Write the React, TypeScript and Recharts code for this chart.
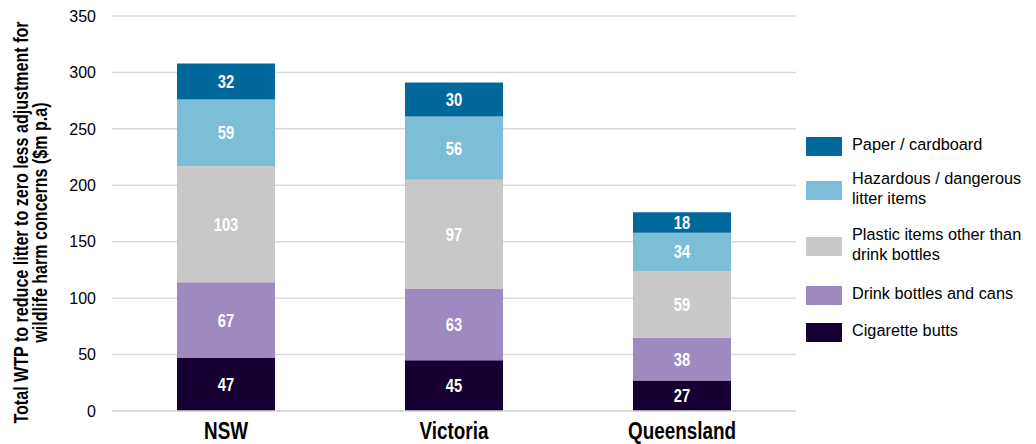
import { BarChart, Bar, XAxis, YAxis, CartesianGrid, LabelList, Label } from "recharts";

const states = ["NSW", "Victoria", "Queensland"];
const cigaretteButts = [47, 45, 27];
const drinkBottles = [67, 63, 38];
const plasticItems = [103, 97, 59];
const hazardousItems = [59, 56, 34];
const paperCardboard = [32, 30, 18];
const yTicks = [0, 50, 100, 150, 200, 250, 300, 350];

const series = [
  { key: "cig", name: "Cigarette butts", color: "#160033", values: cigaretteButts },
  { key: "drink", name: "Drink bottles and cans", color: "#9E89C0", values: drinkBottles },
  { key: "plastic", name: "Plastic items other than drink bottles", color: "#C8C8C8", values: plasticItems },
  { key: "haz", name: "Hazardous / dangerous litter items", color: "#7CBDD8", values: hazardousItems },
  { key: "paper", name: "Paper / cardboard", color: "#00689B", values: paperCardboard },
];

// legend shows the series top-down with manual line breaks
const legendLines: Record<string, string[]> = {
  paper: ["Paper / cardboard"],
  haz: ["Hazardous / dangerous", "litter items"],
  plastic: ["Plastic items other than", "drink bottles"],
  drink: ["Drink bottles and cans"],
  cig: ["Cigarette butts"],
};

const data = states.map((s, i) => {
  const row: Record<string, string | number> = { state: s };
  series.forEach((ser) => {
    row[ser.key] = ser.values[i];
  });
  return row;
});

const sans = "'Liberation Sans', Arial, sans-serif";
const squeeze = 0.82; // fake an Arial Narrow look

function AxisTitle(props: any) {
  const { viewBox } = props;
  const cy = viewBox.y + viewBox.height / 2 + 9;
  return (
    <g transform={`translate(20, ${cy}) rotate(-90) scale(0.785, 1)`}>
      <text x={0} y={0} textAnchor="middle" fontFamily={sans} fontWeight="bold" fontSize={20.5} fill="#000">
        <tspan x={0} dy={0}>Total WTP to reduce litter to zero less adjustment for</tspan>
        <tspan x={0} dy={19}>wildlife harm concerns ($m p.a)</tspan>
      </text>
    </g>
  );
}

function StateTick(props: any) {
  const { x, y, payload } = props;
  return (
    <g transform={`translate(${x}, ${y}) scale(${squeeze}, 1)`}>
      <text x={0} y={0} dy={18} textAnchor="middle" fontFamily={sans} fontWeight="bold" fontSize={23} fill="#000">
        {payload.value}
      </text>
    </g>
  );
}

function SegmentLabel(props: any) {
  const { x, y, width, height, value } = props;
  const cx = Number(x) + Number(width) / 2;
  const cy = Number(y) + Number(height) / 2;
  return (
    <g transform={`translate(${cx}, ${cy}) scale(${squeeze}, 1)`}>
      <text x={0} y={0} dy={6.5} textAnchor="middle" fontFamily={sans} fontWeight="bold" fontSize={18} fill="#fff">
        {value}
      </text>
    </g>
  );
}

function LegendBox() {
  const order = ["paper", "haz", "plastic", "drink", "cig"];
  const centers = [146, 190, 246, 295, 332];
  return (
    <div style={{ position: "absolute", left: -8, top: -8 }}>
      {order.map((k, i) => {
        const ser = series.find((s) => s.key === k)!;
        const lines = legendLines[k];
        return (
          <div key={k}>
            <div
              style={{
                position: "absolute",
                left: 806,
                top: centers[i] - 9.5,
                width: 36,
                height: 19,
                background: ser.color,
              }}
            />
            <div
              style={{
                position: "absolute",
                left: 852,
                top: centers[i] - lines.length * 10 - 2,
                fontFamily: sans,
                fontSize: 16.3,
                lineHeight: "20px",
                whiteSpace: "nowrap",
                color: "#000",
              }}
            >
              {lines.map((l) => (
                <div key={l}>{l}</div>
              ))}
            </div>
          </div>
        );
      })}
    </div>
  );
}

export default function App() {
  return (
    <div style={{ position: "relative", width: 1020, height: 436 }}>
      <BarChart
        width={1020}
        height={436}
        data={data}
        margin={{ top: 8, right: 232, left: 0, bottom: 3 }}
        barSize={98}
      >
        <CartesianGrid vertical={false} stroke="#D9D9D9" strokeWidth={1.5} />
        <XAxis
          dataKey="state"
          height={30}
          tickLine={false}
          axisLine={{ stroke: "#D9D9D9", strokeWidth: 1.5 }}
          tickSize={6}
          tickMargin={4}
          tick={<StateTick />}
        />
        <YAxis
          width={104}
          domain={[0, 350]}
          ticks={yTicks}
          interval={0}
          tickLine={false}
          axisLine={false}
          tickSize={8}
          tickMargin={8}
          tick={{ fontFamily: sans, fontSize: 16, fill: "#000" }}
        >
          <Label content={<AxisTitle />} />
        </YAxis>
        {series.map((ser) => (
          <Bar key={ser.key} dataKey={ser.key} stackId="a" fill={ser.color} isAnimationActive={false}>
            <LabelList dataKey={ser.key} content={<SegmentLabel />} />
          </Bar>
        ))}
      </BarChart>
      <LegendBox />
    </div>
  );
}
